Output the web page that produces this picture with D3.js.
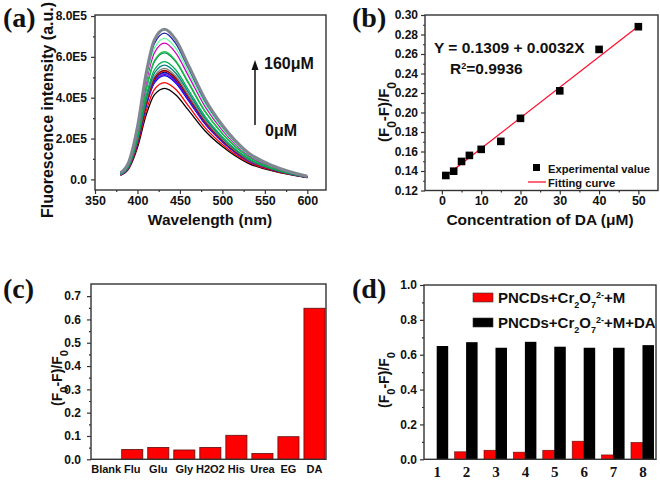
<!DOCTYPE html>
<html><head><meta charset="utf-8">
<script src="https://cdn.jsdelivr.net/npm/d3@7"></script>
<style>
body{margin:0;background:#fff}
svg{display:block}
text{font-weight:bold;fill:#111}
</style>
</head><body>
<svg id="fig" width="660" height="480"></svg>
<script>
// ---------- (a) emission spectra, intensity in units of 1E5 ----------
const wavelengths = [380, 390, 400, 410, 420, 432, 445, 460, 480, 500, 530, 560, 600];
const spectra = [
  [0.20, 0.54, 1.56, 3.12, 4.15, 4.46, 4.15, 3.39, 2.36, 1.61, 0.80, 0.40, 0.09],
  [0.21, 0.57, 1.66, 3.32, 4.41, 4.74, 4.41, 3.60, 2.51, 1.71, 0.85, 0.43, 0.09],
  [0.23, 0.61, 1.78, 3.56, 4.72, 5.08, 4.72, 3.86, 2.69, 1.83, 0.91, 0.46, 0.10],
  [0.23, 0.62, 1.80, 3.60, 4.78, 5.14, 4.78, 3.91, 2.72, 1.85, 0.93, 0.46, 0.10],
  [0.23, 0.62, 1.82, 3.64, 4.84, 5.20, 4.84, 3.95, 2.76, 1.87, 0.94, 0.47, 0.10],
  [0.24, 0.63, 1.84, 3.68, 4.88, 5.25, 4.88, 3.99, 2.78, 1.89, 0.95, 0.47, 0.11],
  [0.24, 0.64, 1.86, 3.71, 4.93, 5.30, 4.93, 4.03, 2.81, 1.91, 0.95, 0.48, 0.11],
  [0.24, 0.64, 1.87, 3.74, 4.97, 5.34, 4.97, 4.06, 2.83, 1.92, 0.96, 0.48, 0.11],
  [0.24, 0.65, 1.90, 3.81, 5.06, 5.44, 5.06, 4.13, 2.88, 1.96, 0.98, 0.49, 0.11],
  [0.25, 0.67, 1.96, 3.92, 5.21, 5.60, 5.21, 4.26, 2.97, 2.02, 1.01, 0.50, 0.11],
  [0.26, 0.69, 2.02, 4.04, 5.37, 5.77, 5.37, 4.39, 3.06, 2.08, 1.04, 0.52, 0.12],
  [0.28, 0.74, 2.17, 4.34, 5.77, 6.20, 5.77, 4.71, 3.29, 2.23, 1.12, 0.56, 0.12],
  [0.28, 0.75, 2.19, 4.38, 5.82, 6.26, 5.82, 4.76, 3.32, 2.25, 1.13, 0.56, 0.13],
  [0.30, 0.80, 2.33, 4.67, 6.20, 6.67, 6.20, 5.07, 3.54, 2.40, 1.20, 0.60, 0.13],
  [0.31, 0.83, 2.42, 4.84, 6.43, 6.91, 6.43, 5.25, 3.66, 2.49, 1.24, 0.62, 0.14],
  [0.32, 0.86, 2.51, 5.01, 6.66, 7.16, 6.66, 5.44, 3.79, 2.58, 1.29, 0.64, 0.14],
  [0.33, 0.88, 2.57, 5.15, 6.84, 7.35, 6.84, 5.59, 3.90, 2.65, 1.32, 0.66, 0.15]
];
const spectraColors = ["#000000","#ff0000","#0000ff","#7b00c8","#3a3aff","#000090","#ff2020","#800000",
  "#808080","#008080","#00b050","#009060","#20c040","#d000c0","#60ff9f","#1c1caa","#7f8790"];
const aYTicks = [0, 2, 4, 6, 8];
const aYLabels = ["0.0", "2.0E5", "4.0E5", "6.0E5", "8.0E5"];
const aXTicks = [350, 400, 450, 500, 550, 600];

// ---------- (b) calibration ----------
const concDA = [1, 3, 5, 7, 10, 15, 20, 30, 40, 50];
const quenchDA = [0.1354, 0.1398, 0.1498, 0.1560, 0.1622, 0.1704, 0.1940, 0.2222, 0.2647, 0.2880];
const fitX = [1, 50];
const fitY = [0.1350, 0.2885];
const bYTicks = [0.12, 0.14, 0.16, 0.18, 0.20, 0.22, 0.24, 0.26, 0.28, 0.30];
const bXTicks = [0, 10, 20, 30, 40, 50];

// ---------- (c) selectivity ----------
const interferents = ["Blank", "Flu", "Glu", "Gly", "H2O2", "His", "Urea", "EG", "DA"];
const interfValues = [0, 0.042, 0.051, 0.040, 0.051, 0.103, 0.025, 0.097, 0.648];
const cYTicks = [0, 0.1, 0.2, 0.3, 0.4, 0.5, 0.6, 0.7];

// ---------- (d) competition ----------
const groups = ["1", "2", "3", "4", "5", "6", "7", "8"];
const withoutDA = [0, 0.043, 0.052, 0.041, 0.052, 0.104, 0.025, 0.097];
const withDA = [0.650, 0.672, 0.640, 0.674, 0.646, 0.640, 0.640, 0.655];
const dYTicks = [0, 0.2, 0.4, 0.6, 0.8, 1.0];

const SANS = "Arial, 'Liberation Sans', sans-serif";
const SERIF = "'Liberation Serif', 'Times New Roman', serif";
const svg = d3.select("#fig");
const AX = "#333";

function txt(s) { return svg.append("text").text(s).style("font-family", SANS); }
function styleAxis(g, size, fam) {
  g.select(".domain").remove();
  g.selectAll(".tick line").attr("stroke", AX).attr("stroke-width", 1.2);
  g.selectAll("text").style("font-size", size + "px").style("fill", "#111")
    .style("font-family", fam || SANS).style("font-weight", "bold");
}
function frame(x0, x1, y0, y1) {
  svg.append("rect").attr("x", x0).attr("y", y0).attr("width", x1 - x0).attr("height", y1 - y0)
    .attr("fill", "none").attr("stroke", AX).attr("stroke-width", 1.4);
}
function minor(scale, vals, orient, x, y, len) {
  const ax = (orient === "left" ? d3.axisLeft(scale) : d3.axisBottom(scale))
    .tickValues(vals).tickSize(len).tickFormat("");
  const g = svg.append("g").attr("transform", `translate(${x},${y})`).call(ax);
  styleAxis(g, 10);
}
function panelLabel(t, x, y) {
  svg.append("text").text(t).attr("x", x).attr("y", y)
    .style("font-family", SERIF).style("font-size", "28px").style("font-weight", "bold");
}
function fracLabel(x, y, size) {
  const t = svg.append("text").attr("transform", `translate(${x},${y}) rotate(-90)`)
    .attr("text-anchor", "middle").style("font-family", SANS).style("font-size", size + "px");
  t.append("tspan").text("(F");
  t.append("tspan").text("0").attr("baseline-shift", "sub").style("font-size", (size * 0.8) + "px");
  t.append("tspan").text("-F)/F");
  t.append("tspan").text("0").attr("baseline-shift", "sub").style("font-size", (size * 0.8) + "px");
}

// ================= (a) =================
{
  const L = 95, R = 326, T = 15, B = 190;
  const x = d3.scaleLinear().domain([350, 622]).range([L, R]);
  const y = d3.scaleLinear().domain([-0.52, 8.05]).range([B, T]);
  const line = d3.line().x((d, i) => x(wavelengths[i])).y(d => y(d)).curve(d3.curveMonotoneX);
  spectra.forEach((s, k) => {
    svg.append("path").attr("d", line(s)).attr("fill", "none")
      .attr("stroke", spectraColors[k]).attr("stroke-width", k === spectra.length - 1 ? 3 : 1.3);
  });
  minor(y, [1, 3, 5, 7], "left", L, 0, 2);
  minor(x, [375, 425, 475, 525, 575], "bottom", 0, B, 2);
  const gy = svg.append("g").attr("transform", `translate(${L},0)`)
    .call(d3.axisLeft(y).tickValues(aYTicks).tickSize(4).tickPadding(4).tickFormat((d, i) => aYLabels[i]));
  styleAxis(gy, 12);
  const gx = svg.append("g").attr("transform", `translate(0,${B})`)
    .call(d3.axisBottom(x).tickValues(aXTicks).tickSize(4).tickPadding(2));
  styleAxis(gx, 12.5);
  frame(L, R, T, B);
  txt("Wavelength (nm)").attr("x", 210).attr("y", 225).attr("text-anchor", "middle").style("font-size", "15.5px");
  txt("Fluorescence intensity (a.u.)")
    .attr("transform", "translate(53,110) rotate(-90)").attr("text-anchor", "middle").style("font-size", "16px");
  // arrow
  svg.append("line").attr("x1", 255).attr("y1", 125).attr("x2", 255).attr("y2", 68)
    .attr("stroke", "#111").attr("stroke-width", 1.5);
  svg.append("path").attr("d", "M255,60 L251.5,70 L258.5,70 Z").attr("fill", "#111");
  txt("160\u03bcM").attr("x", 264).attr("y", 69).style("font-size", "16px");
  txt("0\u03bcM").attr("x", 265).attr("y", 136).style("font-size", "16px");
  panelLabel("(a)", 3, 27);
}

// ================= (b) =================
{
  const L = 425, R = 658, T = 15, B = 190.5;
  const x = d3.scaleLinear().domain([-4.3, 55]).range([L, R]);
  const y = d3.scaleLinear().domain([0.12, 0.30]).range([B, T]);
  minor(y, d3.range(0.13, 0.30, 0.02), "left", L, 0, 2);
  minor(x, [5, 15, 25, 35, 45], "bottom", 0, B, 2);
  const gy = svg.append("g").attr("transform", `translate(${L},0)`)
    .call(d3.axisLeft(y).tickValues(bYTicks).tickSize(4).tickPadding(3).tickFormat(d3.format(".2f")));
  styleAxis(gy, 12);
  const gx = svg.append("g").attr("transform", `translate(0,${B})`)
    .call(d3.axisBottom(x).tickValues(bXTicks).tickSize(4).tickPadding(2));
  styleAxis(gx, 12.5);
  frame(L, R, T, B);
  svg.append("line").attr("x1", x(fitX[0])).attr("y1", y(fitY[0])).attr("x2", x(fitX[1])).attr("y2", y(fitY[1]))
    .attr("stroke", "#ff1030").attr("stroke-width", 1.3);
  svg.selectAll(".pt").data(concDA).enter().append("rect")
    .attr("x", (d) => x(d) - 3.8).attr("y", (d, i) => y(quenchDA[i]) - 3.8)
    .attr("width", 7.6).attr("height", 7.6).attr("fill", "#000");
  txt("Y = 0.1309 + 0.0032X").attr("x", 434).attr("y", 53).style("font-size", "15.5px");
  const r2 = svg.append("text").attr("x", 450).attr("y", 74).style("font-family", SANS).style("font-size", "15.5px");
  r2.append("tspan").text("R");
  r2.append("tspan").text("2").attr("baseline-shift", "super").style("font-size", "9px");
  r2.append("tspan").text("=0.9936");
  // legend
  svg.append("rect").attr("x", 533).attr("y", 164).attr("width", 7).attr("height", 7).attr("fill", "#000");
  txt("Experimental value").attr("x", 548).attr("y", 172.5).style("font-size", "11.2px");
  svg.append("line").attr("x1", 528).attr("x2", 546).attr("y1", 182).attr("y2", 182)
    .attr("stroke", "#ff1030").attr("stroke-width", 1.3);
  txt("Fitting curve").attr("x", 548).attr("y", 186.5).style("font-size", "11.2px");
  txt("Concentration of DA (\u03bcM)").attr("x", 540).attr("y", 225)
    .attr("text-anchor", "middle").style("font-size", "15.5px");
  fracLabel(389, 112, 15);
  panelLabel("(b)", 352, 27);
}

// ================= (c) =================
{
  const L = 91, R = 326, T = 284, B = 459.3;
  const x = d3.scaleBand().domain(interferents).range([93.2, 327.5]).paddingInner(0.19).paddingOuter(0.095);
  const y = d3.scaleLinear().domain([0, 0.752]).range([B, T]);
  svg.selectAll(".cbar").data(interfValues).enter().append("rect")
    .attr("x", (d, i) => x(interferents[i])).attr("width", x.bandwidth())
    .attr("y", d => y(d)).attr("height", d => B - y(d))
    .attr("fill", "#ff0000").attr("stroke", "#5a1010").attr("stroke-width", 0.8);
  minor(y, [0.05, 0.15, 0.25, 0.35, 0.45, 0.55, 0.65], "left", L, 0, 2);
  const gy = svg.append("g").attr("transform", `translate(${L},0)`)
    .call(d3.axisLeft(y).tickValues(cYTicks).tickSize(4).tickPadding(6).tickFormat(d3.format(".1f")));
  styleAxis(gy, 12);
  const gx = svg.append("g").attr("transform", `translate(0,${B})`)
    .call(d3.axisBottom(x).tickSize(0).tickPadding(6));
  styleAxis(gx, 11);
  frame(L, R, T, B);
  fracLabel(62, 378, 14);
  panelLabel("(c)", 3, 298);
}

// ================= (d) =================
{
  const L = 424, R = 656, T = 285, B = 459.3;
  const x = d3.scaleLinear().domain([0.568, 8.46]).range([L, R]);
  const y = d3.scaleLinear().domain([0, 1.0]).range([B, T]);
  const bw = 11.5;
  svg.selectAll(".dred").data(withoutDA).enter().append("rect")
    .attr("x", (d, i) => x(i + 1) - bw).attr("width", bw)
    .attr("y", d => y(d)).attr("height", d => B - y(d))
    .attr("fill", "#ff0000").attr("stroke", "#5a1010").attr("stroke-width", 0.6);
  svg.selectAll(".dblk").data(withDA).enter().append("rect")
    .attr("x", (d, i) => x(i + 1)).attr("width", bw)
    .attr("y", d => y(d)).attr("height", d => B - y(d))
    .attr("fill", "#000");
  minor(y, [0.1, 0.3, 0.5, 0.7, 0.9], "left", L, 0, 2);
  const gy = svg.append("g").attr("transform", `translate(${L},0)`)
    .call(d3.axisLeft(y).tickValues(dYTicks).tickSize(4).tickPadding(3).tickFormat(d3.format(".1f")));
  styleAxis(gy, 12);
  const gx = svg.append("g").attr("transform", `translate(0,${B})`)
    .call(d3.axisBottom(x).tickValues(d3.range(1, 9)).tickSize(0).tickPadding(7)
      .tickFormat((d, i) => groups[i]));
  styleAxis(gx, 15, SERIF);
  frame(L, R, T, B);
  fracLabel(389, 380, 14);
  // legend
  const legs = [["#ff0000", 293, "+M"], ["#000", 318, "+M+DA"]];
  legs.forEach(([c, yy, tail]) => {
    svg.append("rect").attr("x", 473).attr("y", yy).attr("width", 20).attr("height", 9)
      .attr("fill", c).attr("stroke", "#333").attr("stroke-width", 0.6);
    const t = svg.append("text").attr("x", 498).attr("y", yy + 10).style("font-family", SANS).style("font-size", "15px");
    t.append("tspan").text("PNCDs+Cr");
    t.append("tspan").text("2").attr("baseline-shift", "sub").style("font-size", "9px");
    t.append("tspan").text("O");
    t.append("tspan").text("7").attr("baseline-shift", "sub").style("font-size", "9px");
    t.append("tspan").text("2-").attr("baseline-shift", "super").style("font-size", "9px");
    t.append("tspan").text(tail);
  });
  panelLabel("(d)", 352, 298);
}
</script>
</body></html>
